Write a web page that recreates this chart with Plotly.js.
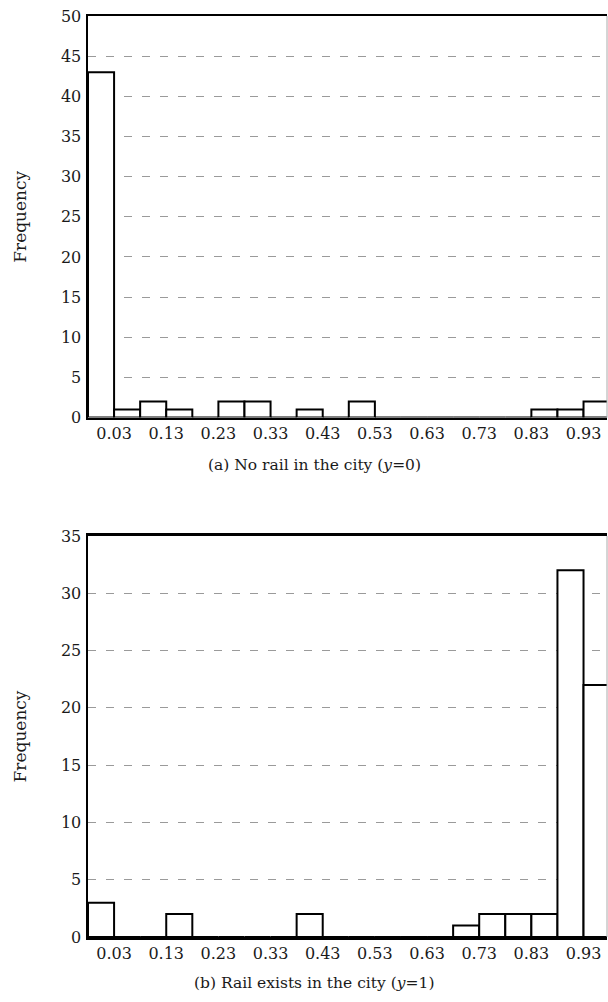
<!DOCTYPE html>
<html>
<head>
<meta charset="utf-8">
<script src="https://cdn.plot.ly/plotly-3.0.1.min.js"></script>
<style>html,body{margin:0;padding:0;background:#fff;}#chart{width:608px;height:1002px;}</style>
</head>
<body>
<div id="chart"></div>
<script>
// Histogram bins (centers), bin width 0.05
const binCenters = [0.005, 0.055, 0.105, 0.155, 0.205, 0.255, 0.305, 0.355, 0.405, 0.455,
                    0.505, 0.555, 0.605, 0.655, 0.705, 0.755, 0.805, 0.855, 0.905, 0.955];
const binWidth = 0.05;
// (a) No rail in the city (y=0)
const countsNoRail = [43, 1, 2, 1, 0, 2, 2, 0, 1, 0, 2, 0, 0, 0, 0, 0, 0, 1, 1, 2];
// (b) Rail exists in the city (y=1)
const countsRail = [3, 0, 0, 2, 0, 0, 0, 0, 2, 0, 0, 0, 0, 0, 1, 2, 2, 2, 32, 22];
const xTickVals = [0.03, 0.13, 0.23, 0.33, 0.43, 0.53, 0.63, 0.73, 0.83, 0.93];
const xTickText = ['0.03', '0.13', '0.23', '0.33', '0.43', '0.53', '0.63', '0.73', '0.83', '0.93'];
const yTicksA = [0, 5, 10, 15, 20, 25, 30, 35, 40, 45, 50];
const yTicksB = [0, 5, 10, 15, 20, 25, 30, 35];
const captionA = '(a) No rail in the city (<i>y</i>=0)';
const captionB = '(b) Rail exists in the city (<i>y</i>=1)';
const yTitle = 'Frequency';

const FONT = 'DejaVu Serif, Liberation Serif, serif';
const barStyle = {color: '#ffffff', line: {color: '#000000', width: 2}};

const traces = [
  {type: 'bar', x: binCenters, y: countsNoRail, width: binWidth, marker: barStyle,
   xaxis: 'x', yaxis: 'y', hoverinfo: 'x+y', showlegend: false},
  {type: 'bar', x: binCenters, y: countsRail, width: binWidth, marker: barStyle,
   xaxis: 'x2', yaxis: 'y2', hoverinfo: 'x+y', showlegend: false}
];

function xAxis(anchor) {
  return {
    anchor: anchor, range: [-0.02, 0.975], domain: [0, 1],
    tickmode: 'array', tickvals: xTickVals, ticktext: xTickText,
    ticks: '', ticklabelstandoff: 0,
    showline: true, linecolor: '#000', linewidth: 2.5, mirror: true,
    showgrid: false, zeroline: false,
    tickfont: {family: FONT, size: 16, color: '#1a1a1a'}
  };
}
function yAxis(anchor, domain, maxV, ticks) {
  return {
    anchor: anchor, domain: domain, range: [0, maxV],
    tickmode: 'array', tickvals: ticks,
    ticks: '', ticklabelstandoff: 1,
    showline: true, linecolor: '#000', linewidth: 2.5, mirror: false,
    showgrid: true, gridcolor: '#9a9a9a', gridwidth: 1, griddash: '8px,10px',
    zeroline: false,
    tickfont: {family: FONT, size: 16, color: '#1a1a1a'},
    title: {text: yTitle, standoff: 30, font: {family: FONT, size: 17, color: '#1a1a1a'}}
  };
}

const layout = {
  width: 608, height: 1002,
  margin: {l: 88, r: 1, t: 15.7, b: 65.3, pad: 0},
  paper_bgcolor: '#fff', plot_bgcolor: '#fff',
  bargap: 0,
  font: {family: FONT, color: '#1a1a1a'},
  xaxis: xAxis('y'),
  yaxis: yAxis('x', [0.564, 1], 50, yTicksA),
  xaxis2: xAxis('y2'),
  yaxis2: yAxis('x2', [0, 0.4354], 35, yTicksB),
  shapes: [
    {type: 'line', xref: 'x domain', yref: 'y domain', x0: 1, x1: 1, y0: 0, y1: 1,
     line: {color: '#aaaaaa', width: 1}},
    {type: 'line', xref: 'x2 domain', yref: 'y2 domain', x0: 1, x1: 1, y0: 0, y1: 1,
     line: {color: '#aaaaaa', width: 1}}
  ],
  annotations: [
    {text: captionA, xref: 'paper', yref: 'paper', x: 0.437, y: 0.512,
     xanchor: 'center', yanchor: 'middle', showarrow: false,
     font: {family: FONT, size: 15.5, color: '#1a1a1a'}},
    {text: captionB, xref: 'paper', yref: 'paper', x: 0.435, y: -0.0503,
     xanchor: 'center', yanchor: 'middle', showarrow: false,
     font: {family: FONT, size: 15.5, color: '#1a1a1a'}}
  ]
};

Plotly.newPlot('chart', traces, layout, {displayModeBar: false, staticPlot: true});
</script>
</body>
</html>
